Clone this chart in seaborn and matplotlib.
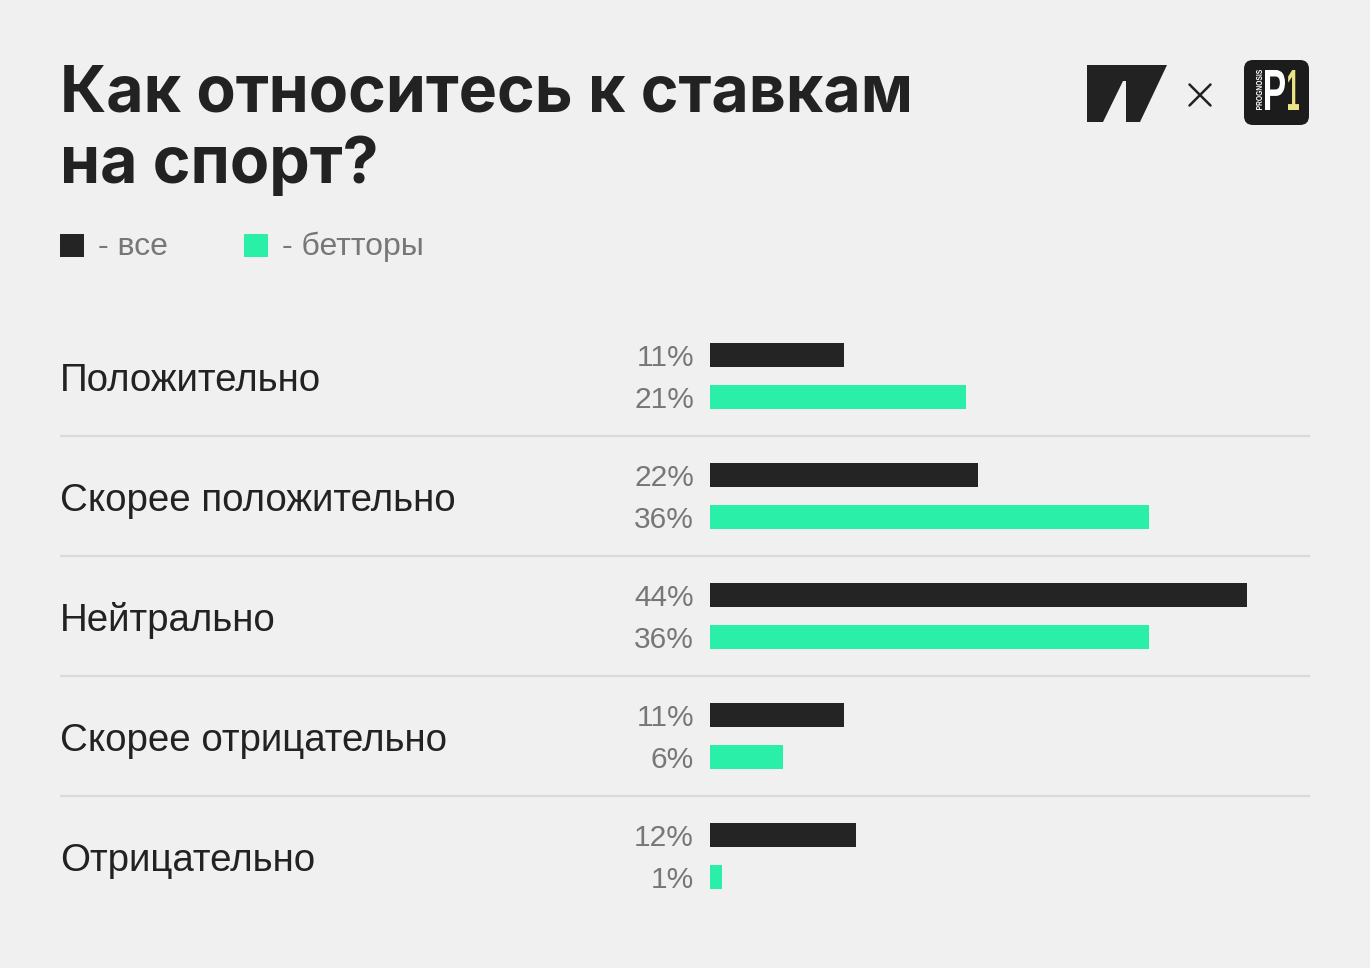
import matplotlib
matplotlib.use("Agg")
import matplotlib.pyplot as plt
import seaborn as sns
import pandas as pd
from matplotlib.patches import Polygon, FancyBboxPatch, PathPatch, Rectangle
from matplotlib.textpath import TextPath
from matplotlib.font_manager import FontProperties
from matplotlib.transforms import Affine2D

# Data
categories = ["Положительно", "Скорее положительно", "Нейтрально",
              "Скорее отрицательно", "Отрицательно"]
groups = ["все", "бетторы"]
all_values = [11, 22, 44, 11, 12]
bettor_values = [21, 36, 36, 6, 1]
title_lines = ["Как относитесь к ставкам", "на спорт?"]

BG = "#f0f0f0"
DARK = "#242424"
GREEN = "#29efa8"
GREY = "#777777"
LINE = "#dadada"

df = pd.DataFrame({
    "category": categories * 2,
    "group": [groups[0]] * len(categories) + [groups[1]] * len(categories),
    "value": all_values + bettor_values,
})

sns.set_theme(style="white")
plt.rcParams["font.family"] = ["Liberation Sans", "DejaVu Sans"]

W, H = 1370, 968
fig = plt.figure(figsize=(13.7, 9.68), dpi=100, facecolor=BG)

# bar area: rows 120px apart, 12.2px per percent, zero at x=710
px = 12.2
x_left, x_zero, x_right = 60, 710, 1310
ax = fig.add_axes([x_left / W, (H - 916) / H, (x_right - x_left) / W, 600 / H])
sns.barplot(data=df, y="category", x="value", hue="group", order=categories,
            hue_order=groups, palette={groups[0]: DARK, groups[1]: GREEN},
            orient="h", width=0.7, gap=0.43, dodge=True, legend=False,
            saturation=1, errorbar=None, linewidth=0, ax=ax)
ax.set_xlim(-(x_zero - x_left) / px, (x_right - x_zero) / px)
ax.set_ylim(4.5, -0.5)
ax.axis("off")

for i, cat in enumerate(categories):
    ax.text(ax.get_xlim()[0], i + 0.121, cat, fontsize=27.7, color="#222222",
            ha="left", va="baseline")
    for off, val in ((-0.175, all_values[i]), (0.175, bettor_values[i])):
        ax.text(-16 / px, i + off + 0.094, f"{val}%", fontsize=21.5, color=GREY,
                ha="right", va="baseline")
for i in range(len(categories) - 1):
    ax.axhline(i + 0.5, color=LINE, lw=1.6, zorder=0)

# overlay in pixel coordinates for title, legend and logos
ov = fig.add_axes([0, 0, 1, 1])
ov.set_xlim(0, W)
ov.set_ylim(H, 0)
ov.axis("off")
ov.patch.set_alpha(0)

renderer = fig.canvas.get_renderer()
t1 = ov.text(60, 111, title_lines[0], fontsize=48, fontweight="bold",
             family=["Inter", "DejaVu Sans"], color="#222222", va="baseline")
w1 = t1.get_window_extent(renderer=renderer).width
fs = 48 * 853 / w1
t1.set_fontsize(fs)
ov.text(60, 183, title_lines[1], fontsize=fs, fontweight="bold",
        family=["Inter", "DejaVu Sans"], color="#222222", va="baseline")

# legend
ov.add_patch(Rectangle((60, 234), 24, 23, facecolor=DARK, edgecolor="none"))
ov.text(98, 255, "- " + groups[0], fontsize=23, color=GREY, va="baseline")
ov.add_patch(Rectangle((244, 234), 24, 23, facecolor=GREEN, edgecolor="none"))
ov.text(282, 255, "- " + groups[1], fontsize=23, color=GREY, va="baseline")

# logos
ov.add_patch(Polygon([(1087, 65), (1167, 65), (1140, 122), (1126, 122),
                      (1126, 81), (1123, 81), (1103, 122), (1087, 122)],
                     closed=True, facecolor="#222222", edgecolor="none"))
ov.plot([1189.5, 1210.5], [84.5, 105.5], color="#222222", lw=1.8)
ov.plot([1189.5, 1210.5], [105.5, 84.5], color="#222222", lw=1.8)
ov.add_patch(FancyBboxPatch((1244, 60), 65, 65, boxstyle="round,pad=0,rounding_size=9",
                            facecolor="#1c1c1c", edgecolor="none"))


def glyph(s, x0, y0, x1, y1, color, prop, vertical=False):
    path = TextPath((0, 0), s, size=10, prop=prop)
    ext = path.get_extents()
    w, h = (y1 - y0, x1 - x0) if vertical else (x1 - x0, y1 - y0)
    tr = Affine2D().translate(-ext.x0, -ext.y0).scale(w / ext.width, h / ext.height)
    if vertical:
        tr = tr.rotate_deg(90).scale(1, -1).translate(x1, y1)
    else:
        tr = tr.scale(1, -1).translate(x0, y1)
    ov.add_patch(PathPatch(tr.transform_path(path), facecolor=color, edgecolor="none"))


logo_font = FontProperties(family="Liberation Sans", weight="bold")
glyph("PROGNOSIS", 1256, 70, 1262, 110, "white", logo_font, vertical=True)
glyph("P", 1265, 70, 1285, 110, "white", logo_font)
glyph("1", 1288, 70, 1299, 110, "#ece585", logo_font)

fig.savefig("out.png", dpi=100, facecolor=BG)
